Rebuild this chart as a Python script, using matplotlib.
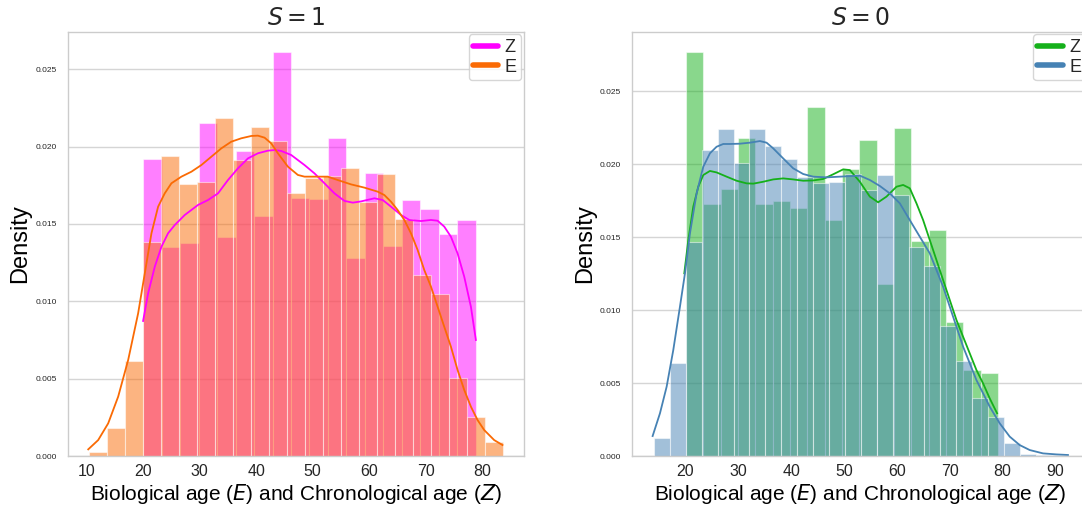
import matplotlib
matplotlib.use("Agg")
import matplotlib.pyplot as plt
from matplotlib.lines import Line2D
import numpy as np

# --- data (density histograms + kde curves) ---

# S = 1
s1_z_range = (20.0, 78.9)
s1_z_dens = [0.0192, 0.01349, 0.01375, 0.02153, 0.01418, 0.01974, 0.01549, 0.02612, 0.0167,
             0.01659, 0.02054, 0.01278, 0.01827, 0.01358, 0.01653, 0.01597, 0.01435, 0.01528]
s1_e_range = (10.46, 83.73)
s1_e_dens = [0.00024, 0.00179, 0.00614, 0.01386, 0.01937, 0.01758, 0.01774, 0.02185, 0.01916,
             0.02127, 0.02039, 0.01702, 0.01799, 0.01812, 0.01862, 0.0164, 0.01823, 0.01532,
             0.0117, 0.0105, 0.00506, 0.00254, 0.00088]

s1_z_kde_x = [20.0, 20.89, 22.07, 23.25, 24.42, 25.6, 27.37, 29.72, 31.49, 33.26, 35.02, 36.79,
              38.56, 40.32, 42.09, 43.27, 44.45, 46.21, 48.57, 50.34, 52.1, 53.87, 55.64, 57.11,
              58.58, 60.94, 62.41, 63.88, 65.65, 67.12, 69.18, 70.95, 72.13, 73.3, 74.48, 75.66,
              76.84, 78.02, 78.9]
s1_z_kde_y = [0.00873, 0.01052, 0.01224, 0.01353, 0.0144, 0.01493, 0.01558, 0.01623, 0.01655,
              0.01698, 0.01784, 0.0186, 0.01924, 0.01957, 0.01974, 0.01978, 0.01972, 0.01946,
              0.01881, 0.01827, 0.01763, 0.01698, 0.01649, 0.01638, 0.01646, 0.01666, 0.01655,
              0.01612, 0.01558, 0.01526, 0.01519, 0.01526, 0.01521, 0.01483, 0.01418, 0.0131,
              0.01159, 0.00965, 0.0075]
s1_e_kde_x = [10.29, 12.05, 13.82, 15.59, 17.36, 19.12, 20.3, 21.48, 22.66, 23.83, 25.01, 26.78,
              28.55, 30.31, 32.08, 33.85, 35.61, 37.38, 39.15, 40.32, 41.5, 42.68, 43.86, 45.62,
              47.39, 48.57, 50.34, 52.69, 54.46, 56.81, 59.17, 61.52, 62.7, 63.88, 65.06, 66.24,
              67.41, 68.59, 69.77, 70.95, 72.13, 73.3, 74.48, 75.66, 76.84, 78.02, 79.19, 80.37,
              82.14, 83.61]
s1_e_kde_y = [0.00043, 0.00103, 0.00211, 0.00384, 0.00621, 0.00922, 0.01181, 0.0144, 0.01612,
              0.01698, 0.01763, 0.01806, 0.01838, 0.01881, 0.01935, 0.01989, 0.02032, 0.02054,
              0.02069, 0.02071, 0.02058, 0.02021, 0.01957, 0.01871, 0.01817, 0.01806, 0.01806,
              0.01806, 0.01784, 0.01756, 0.01735, 0.01709, 0.01687, 0.01644, 0.0159, 0.01526,
              0.0144, 0.01332, 0.01202, 0.01095, 0.00965, 0.00836, 0.00707, 0.00556, 0.00427,
              0.00319, 0.00233, 0.00168, 0.00103, 0.00071]

# S = 0
s0_z_range = (20.09, 79.1)
s0_z_dens = [0.0277, 0.01726, 0.01829, 0.02181, 0.01726, 0.01749, 0.01699, 0.02393, 0.01616,
             0.01968, 0.02169, 0.01177, 0.0225, 0.01474, 0.0155, 0.00921, 0.0059, 0.00572]
s0_e_range = (14.05, 92.3)
s0_e_dens = [0.00126, 0.0064, 0.01465, 0.02101, 0.02245, 0.02007, 0.0224, 0.02124, 0.02037,
             0.01916, 0.0187, 0.01881, 0.01932, 0.01824, 0.01927, 0.01792, 0.01436, 0.01305,
             0.00892, 0.00651, 0.004, 0.00265, 0.00091, 0.00011, 0.00007, 0.00007]

s0_z_kde_x = [19.78, 20.54, 21.48, 22.43, 23.37, 24.63, 25.89, 27.78, 29.67, 31.56, 32.82, 34.71,
              36.6, 38.49, 40.38, 42.27, 44.16, 46.05, 47.94, 49.84, 51.1, 52.99, 54.88, 56.45,
              58.03, 59.92, 61.18, 62.44, 63.7, 64.96, 66.22, 67.48, 68.74, 70.0, 71.26, 72.52,
              73.78, 75.04, 76.3, 77.56, 78.95]
s0_z_kde_y = [0.01253, 0.01481, 0.0171, 0.01847, 0.01927, 0.01955, 0.01945, 0.01916, 0.01888,
              0.0187, 0.01868, 0.01881, 0.01897, 0.01904, 0.01897, 0.01888, 0.0189, 0.019,
              0.01932, 0.01966, 0.01961, 0.01881, 0.01779, 0.0174, 0.01779, 0.01847, 0.01859,
              0.01836, 0.01733, 0.01618, 0.01481, 0.01344, 0.01207, 0.0107, 0.00933, 0.00818,
              0.00704, 0.0059, 0.00498, 0.00395, 0.00293]
s0_e_kde_x = [13.79, 15.18, 16.44, 17.7, 18.96, 19.91, 20.85, 22.11, 23.37, 24.63, 25.89, 27.15,
              28.41, 30.3, 32.19, 34.08, 35.34, 36.6, 38.49, 40.38, 42.27, 44.16, 46.69, 49.21,
              52.99, 54.88, 56.77, 58.66, 60.55, 62.44, 64.33, 66.22, 67.48, 68.74, 70.0, 71.26,
              72.52, 73.78, 75.04, 76.3, 77.56, 79.45, 81.34, 83.23, 85.12, 87.64, 90.16, 92.36]
s0_e_kde_y = [0.00137, 0.00293, 0.00475, 0.00727, 0.01024, 0.01253, 0.01527, 0.01801, 0.01984,
              0.02076, 0.02121, 0.0214, 0.0214, 0.02142, 0.02149, 0.0216, 0.02149, 0.0211,
              0.02041, 0.01973, 0.01934, 0.01916, 0.01911, 0.01916, 0.01923, 0.01893, 0.01852,
              0.01801, 0.01733, 0.01618, 0.01504, 0.0139, 0.01276, 0.01161, 0.01024, 0.00887,
              0.0075, 0.00636, 0.00521, 0.0043, 0.00338, 0.00224, 0.00133, 0.00075, 0.00041,
              0.00018, 0.00011, 0.00007]

yticks = [0.0, 0.005, 0.01, 0.015, 0.02, 0.025]

# --- style (seaborn whitegrid look) ---
plt.rcParams['font.family'] = ['Liberation Sans', 'DejaVu Sans']
plt.rcParams['axes.edgecolor'] = '#cccccc'
plt.rcParams['grid.color'] = '#d5d5d5'
plt.rcParams['text.color'] = '#262626'
plt.rcParams['xtick.color'] = '#262626'
plt.rcParams['ytick.color'] = '#262626'


def draw_hist(ax, rng, dens, color):
    edges = np.linspace(rng[0], rng[1], len(dens) + 1)
    ax.bar(edges[:-1], dens, width=np.diff(edges), align='edge', color=color,
           alpha=0.5, edgecolor='white', linewidth=0.8)


def panel(ax, title, z_rng, z_dens, e_rng, e_dens, zk, ek, zcol, ecol):
    draw_hist(ax, z_rng, z_dens, zcol)
    draw_hist(ax, e_rng, e_dens, ecol)
    ax.plot(zk[0], zk[1], color=zcol, linewidth=1.3)
    ax.plot(ek[0], ek[1], color=ecol, linewidth=1.3)

    ax.set_title(title, fontsize=17, pad=5)
    ax.set_xlabel(r'Biological age ($E$) and Chronological age ($Z$)', fontsize=15, labelpad=2)
    ax.set_ylabel('Density', fontsize=17, labelpad=3)
    ax.set_yticks(yticks)
    ax.set_yticklabels(['%.3f' % v for v in yticks], fontsize=6)
    ax.tick_params(axis='x', labelsize=11.5, length=0, pad=6)
    ax.tick_params(axis='y', length=0, pad=8)
    ax.grid(True, axis='y', linewidth=1)
    ax.grid(False, axis='x')
    ax.set_axisbelow(True)
    for s in ax.spines.values():
        s.set_linewidth(1)

    handles = [Line2D([0], [0], color=zcol, lw=4, solid_capstyle='round'),
               Line2D([0], [0], color=ecol, lw=4, solid_capstyle='round')]
    ax.legend(handles, ['Z', 'E'], loc='upper right', fontsize=13, borderaxespad=0.15,
              handlelength=1.4, handletextpad=0.35, labelspacing=0.15, borderpad=0.25,
              edgecolor='#cccccc', fancybox=True)


fig = plt.figure(figsize=(10.82, 5.09), dpi=100)
ax1 = fig.add_axes([0.0628, 0.1041, 0.4214, 0.8336])
ax2 = fig.add_axes([0.5844, 0.1041, 0.4214, 0.8336])

panel(ax1, r'$S = 1$', s1_z_range, s1_z_dens, s1_e_range, s1_e_dens,
      (s1_z_kde_x, s1_z_kde_y), (s1_e_kde_x, s1_e_kde_y), '#ff00ff', '#fa6a04')
ax1.set_xlim(6.7, 87.4)
ax1.set_ylim(0, 0.02743)
ax1.set_xticks([10, 20, 30, 40, 50, 60, 70, 80])

panel(ax2, r'$S = 0$', s0_z_range, s0_z_dens, s0_e_range, s0_e_dens,
      (s0_z_kde_x, s0_z_kde_y), (s0_e_kde_x, s0_e_kde_y), '#15b01a', '#4682b4')
ax2.set_xlim(9.95, 96.2)
ax2.set_ylim(0, 0.0291)
ax2.set_xticks([20, 30, 40, 50, 60, 70, 80, 90])

fig.savefig('out.png', dpi=100)
